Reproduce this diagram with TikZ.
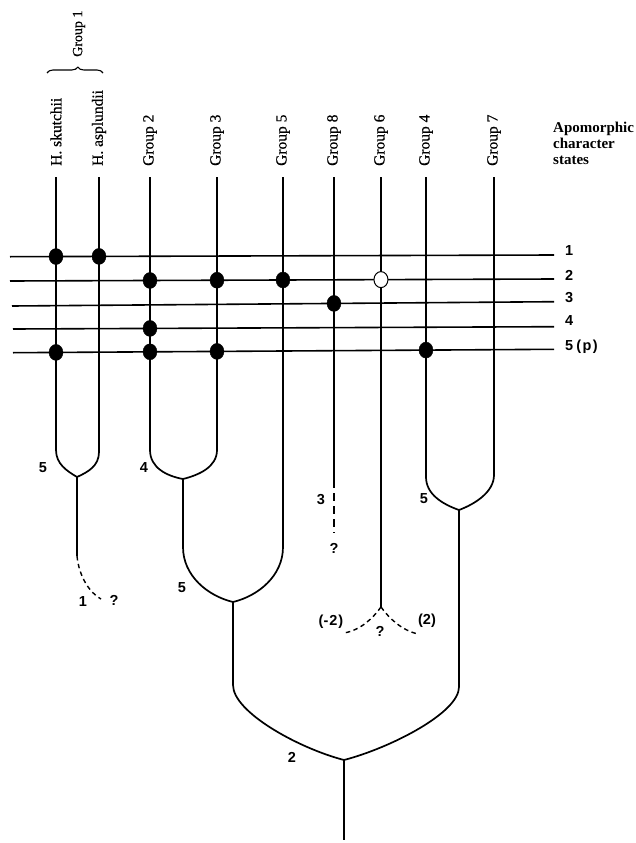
\documentclass[tikz,border=0pt]{standalone}
\usepackage{fontspec}
\setmainfont{Liberation Serif}
\setsansfont{Liberation Sans}
\newfontfamily\taxfont[FakeBold=0.6]{Liberation Serif}
\usetikzlibrary{decorations.pathreplacing,shapes.geometric}
\begin{document}
\begin{tikzpicture}[x=1pt,y=-1pt,line join=round,
  branch/.style={line width=1.7pt},
  charline/.style={line width=1.6pt},
  hyp/.style={line width=1.4pt,dash pattern=on 4.5pt off 3.5pt},
  dot/.style={ellipse,fill=black,draw=black,inner sep=0pt,minimum width=14pt,minimum height=16pt},
  odot/.style={ellipse,fill=white,draw=black,line width=1pt,inner sep=0pt,minimum width=14pt,minimum height=16pt},
  taxon/.style={rotate=90,anchor=west,inner sep=0pt,font=\taxfont\fontsize{15.5}{16}\selectfont},
  num/.style={inner sep=0pt,font=\sffamily\bfseries\fontsize{14.5}{14.5}\selectfont},
  state/.style={anchor=west,inner sep=0pt,font=\sffamily\bfseries\fontsize{14.5}{14.5}\selectfont}
]
\useasboundingbox (0,0) rectangle (636,843);

% ---- taxon labels ----
\node[taxon] (lS) at (56,166) {H. skutchii};
\node[taxon] (lA) at (99,166) {H. asplundii};
\node[taxon] (l2) at (150,166) {Group 2};
\node[taxon] (l3) at (217,166) {Group 3};
\node[taxon] (l5) at (283,166) {Group 5};
\node[taxon] (l8) at (334,166) {Group 8};
\node[taxon] (l6) at (381,166) {Group 6};
\node[taxon] (l4) at (426,166) {Group 4};
\node[taxon] (l7) at (494,166) {Group 7};
\node[taxon,font=\taxfont\fontsize{14}{14}\selectfont] (g1) at (79,57) {Group 1};
\coordinate (brL) at (47,73);
\coordinate (brR) at (103,73);
\draw[line width=1.1pt,decorate,decoration={brace,amplitude=6pt,aspect=0.55}] (brL) -- (brR);
\node[anchor=north west,align=left,inner sep=0pt,font=\bfseries\fontsize{15}{16}\selectfont] (apo) at (553,121.5) {Apomorphic\\character\\states};

% ---- coordinates ----
\coordinate (tS) at (56,177);  \coordinate (fS) at (56,450);
\coordinate (tA) at (99,177);  \coordinate (fA) at (99,452);
\coordinate (t2) at (150,177); \coordinate (f2) at (150,450);
\coordinate (t3) at (217,177); \coordinate (f3) at (217,450);
\coordinate (t5) at (283,177); \coordinate (f5) at (283,547);
\coordinate (t8) at (334,177); \coordinate (f8) at (334,480); \coordinate (e8) at (334,533);
\coordinate (t6) at (381,177); \coordinate (f6) at (381,607);
\coordinate (t4) at (426,177); \coordinate (f4) at (426,477);
\coordinate (t7) at (494,177); \coordinate (f7) at (494,475);
\coordinate (j1) at (77,477);   \coordinate (s1) at (77,556); \coordinate (e1) at (101,599);
\coordinate (j23) at (183,479); \coordinate (s23) at (183,547);
\coordinate (j235) at (233,602);\coordinate (s235) at (233,685);
\coordinate (j47) at (459,510); \coordinate (s47) at (459,687);
\coordinate (root) at (344,760);\coordinate (base) at (344,840);
\coordinate (e6L) at (344,633); \coordinate (e6R) at (418,634);

\coordinate (h1a) at (10,256.7);  \coordinate (h1b) at (554,255);
\coordinate (h2a) at (10,281);    \coordinate (h2b) at (554,279);
\coordinate (h3a) at (12,306);    \coordinate (h3b) at (554,301.7);
\coordinate (h4a) at (13,329);    \coordinate (h4b) at (554,326.7);
\coordinate (h5a) at (13,352.7);  \coordinate (h5b) at (554,349.3);

% ---- character lines ----
\foreach \i in {1,...,5} {\draw[charline] (h\i a) -- (h\i b);}
\node[state] (n1) at (565,251) {1};
\node[state] (n2) at (565,275) {2};
\node[state] (n3) at (565,298) {3};
\node[state] (n4) at (565,321) {4};
\node[state] (n5) at (565,347) {5\hspace{3pt}(\hspace{1.5pt}p\hspace{1.5pt})};

% ---- branches ----
\draw[branch] (tS) -- (fS) .. controls (56,464) and (67,471) .. (j1);
\draw[branch] (tA) -- (fA) .. controls (99,466) and (88,472) .. (j1);
\draw[branch] (j1) -- (s1);
\draw[hyp] (s1) .. controls (79,577) and (90,593) .. (e1);

\draw[branch] (t2) -- (f2) .. controls (150,468) and (167,476) .. (j23);
\draw[branch] (t3) -- (f3) .. controls (217,467) and (199,475) .. (j23);
\draw[branch] (j23) -- (s23) .. controls (183,576) and (208,596) .. (j235);
\draw[branch] (t5) -- (f5) .. controls (283,576) and (258,596) .. (j235);
\draw[branch] (j235) -- (s235) .. controls (233,712) and (298,748) .. (root);

\draw[branch] (t8) -- (f8);
\draw[hyp,dash pattern=on 8pt off 5pt] (f8) -- (e8);

\draw[branch] (t6) -- (f6);
\draw[hyp] (f6) .. controls (373,618) and (361,630) .. (e6L);
\draw[hyp] (f6) .. controls (389,618) and (401,630) .. (e6R);

\draw[branch] (t4) -- (f4) .. controls (426,494) and (442,504) .. (j47);
\draw[branch] (t7) -- (f7) .. controls (494,492) and (475,504) .. (j47);
\draw[branch] (j47) -- (s47) .. controls (459,713) and (390,748) .. (root);
\draw[branch] (root) -- (base);

% ---- character-state dots ----
\node[dot] (d1S) at (intersection of h1a--h1b and tS--fS) {};
\node[dot] (d1A) at (intersection of h1a--h1b and tA--fA) {};
\node[dot] (d22) at (intersection of h2a--h2b and t2--f2) {};
\node[dot] (d23) at (intersection of h2a--h2b and t3--f3) {};
\node[dot] (d25) at (intersection of h2a--h2b and t5--f5) {};
\node[odot] (d26) at (intersection of h2a--h2b and t6--f6) {};
\node[dot] (d38) at (intersection of h3a--h3b and t8--f8) {};
\node[dot] (d42) at (intersection of h4a--h4b and t2--f2) {};
\node[dot] (d5S) at (intersection of h5a--h5b and tS--fS) {};
\node[dot] (d52) at (intersection of h5a--h5b and t2--f2) {};
\node[dot] (d53) at (intersection of h5a--h5b and t3--f3) {};
\node[dot] (d54) at (intersection of h5a--h5b and t4--f4) {};

% ---- branch labels ----
\node[num] (b1) at (43,468) {5};
\node[num] (b2) at (144,468) {4};
\node[num] (b3) at (83,602) {1};
\node[num] (q1) at (114,600) {?};
\node[num] (b4) at (182,588) {5};
\node[num] (b5) at (321,500) {3};
\node[num] (q8) at (334,548) {?};
\node[num] (b6) at (424,499) {5};
\node[num] (b7) at (331,622) {(-\hspace{1pt}2\hspace{1pt})};
\node[num] (q6) at (380,631) {?};
\node[num] (b8) at (427,621) {(2)};
\node[num] (b9) at (292,757) {2};
\end{tikzpicture}
\end{document}
